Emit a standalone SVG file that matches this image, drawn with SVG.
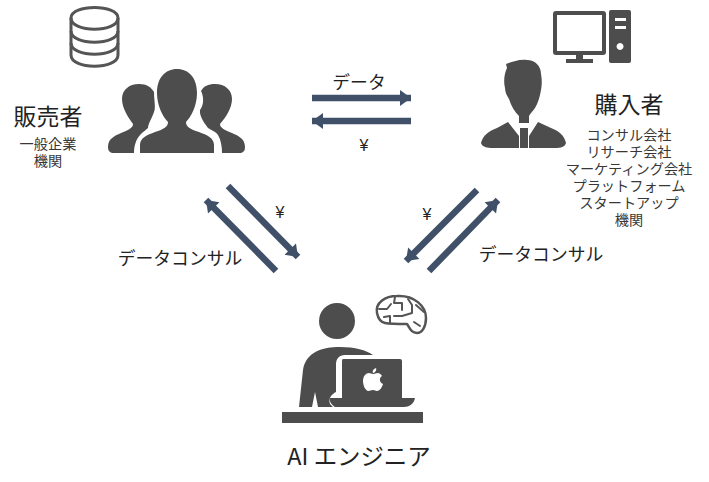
<svg xmlns="http://www.w3.org/2000/svg" width="709" height="482" viewBox="0 0 709 482">
<defs>
<style>
text{font-family:"Noto Sans CJK JP","Liberation Sans",sans-serif;fill:#222;text-anchor:middle}
.h{font-size:23px}
.e{font-size:23.4px}
.s{font-size:14.2px;fill:#383838}
.l{font-size:17.8px}
.y{font-size:16px;font-family:"Liberation Sans",sans-serif}
.f{fill:#4d4d4d}
.o{fill:none;stroke:#555;stroke-width:3}
.b{fill:none;stroke:#555;stroke-width:2;stroke-linecap:round;stroke-linejoin:round}
.a{stroke:#3f5068;stroke-width:6.5;fill:none;marker-end:url(#ah)}
</style>
<marker id="ah" markerUnits="userSpaceOnUse" markerWidth="14" markerHeight="18" refX="12" refY="9" orient="auto"><path d="M1 1L12 9L1 17Z" fill="#3f5068"/></marker>
</defs>
<rect width="709" height="482" fill="#fff"/>
<g id="connectors">
<path class="a" d="M312 98H411"/>
<path class="a" d="M411 121H312"/>
<path class="a" d="M228 186L298 257"/>
<path class="a" d="M276 271L206 200"/>
<path class="a" d="M477 190L406 261"/>
<path class="a" d="M429 271L498 200"/>
</g>
<g id="seller">
<path class="o" d="M71 18C71 4 118 4 118 18V55C118 70 71 70 71 55Z"/>
<path class="o" d="M71 18C71 33 118 33 118 18M71 31C71 46 118 46 118 31M71 43C71 58 118 58 118 43"/>
<path class="f" d="M108 147C108 139 114 136 121 133C128 130 133 128 133 124C128 117 122 108 122 99C122 90 129 84 139 84C147 84 151 87 154 92C154 100 156 108 154 112C152 118 148 124 148 128C146 130 144 131 141 134C136 139 134 146 134 153H114C110 153 108 151 108 147Z"/>
<path class="f" d="M140 153V145C140 138 147 135 155 132C164 129 168 127 168 122C163 117 157 106 157 93C157 78 165 69 177 69C189 69 197 78 197 93C197 106 191 117 186 122C186 127 190 129 199 132C207 135 214 138 214 145V153Z"/>
<path class="f" d="M245 147C245 139 239 136 232 133C225 130 220 128 220 124C226 117 232 108 232 99C232 90 225 84 215 84C208 84 204 86 201 91C204 97 204 105 200 110C199 116 205 124 208 128C213 131 216 132 218 135C221 140 222 147 222 153H239C243 153 245 151 245 147Z"/>
<text class="h" x="48" y="125">販売者</text>
<text class="s" x="48" y="149">一般企業</text>
<text class="s" x="48" y="166">機関</text>
</g>
<g id="buyer">
<path class="f" fill-rule="evenodd" d="M556 11H603Q606 11 606 14V52Q606 55 603 55H583V59H593V63H566V59H576V55H556Q553 55 553 52V14Q553 11 556 11ZM557 15V51H602V15Z"/>
<path class="f" fill-rule="evenodd" d="M611 10H629Q631 10 631 12V61Q631 63 629 63H611Q609 63 609 61V12Q609 10 611 10ZM615 18V21H626V18ZM615 26V29H626V26ZM620 43A3.5 3.5 0 1 0 620.1 43Z"/>
<path class="f" d="M505 88C503 80 505 72 507 68L506 64C512 62 519 59 527 60C535 60 541 66 541 74C542 80 542 84 541 90C540 96 538 103 535 108C532 112 530 114 529 116V123H519V116C515 112 511 106 509 99C507 96 505 92 505 88Z"/>
<path class="f" d="M481 143C483 135 489 131 497 128L508 122L519 136V148H493C487 148 482 147 481 143ZM566 143C564 135 559 131 551 128L538 122L529 136V148H555C561 148 565 147 566 143Z"/>
<path class="f" d="M520 128H528V148H520Z"/>
<text class="h" x="629" y="113">購入者</text>
<text class="s" x="629" y="140">コンサル会社</text>
<text class="s" x="629" y="157">リサーチ会社</text>
<text class="s" x="629" y="174">マーケティング会社</text>
<text class="s" x="629" y="191">プラットフォーム</text>
<text class="s" x="629" y="208">スタートアップ</text>
<text class="s" x="629" y="225">機関</text>
</g>
<g id="engineer">
<circle class="f" cx="337" cy="321" r="18"/>
<path class="f" d="M299 407L303 370C306 352 322 347 340 347C355 347 366 350 373 355H345C339 355 336 359 336 364V392C332 394 328 398 330 404L333 407H318L315 392L312 407Z"/>
<path class="f" d="M343 359H400Q402 359 402 361V398H415C414 404 409 407 404 407H335C332 405 329 402 330 398H342V361Q342 359 343 359Z"/>
<path fill="#fff" d="M376 368C377 370 375 373 373 373C372 371 373 369 376 368ZM373 374C375 374 376 373 378 373C379 373 381 374 382 376C379 378 379 382 383 384C382 387 380 391 377 391C375 391 375 390 373 390C371 390 370 391 368 391C365 390 363 385 363 381C363 376 366 373 369 373C370 373 372 374 373 374Z"/>
<path class="f" d="M282 412H423V423H282Z"/>
<path class="b" style="stroke-width:2.5" d="M377 313C375 303 385 296 397 296C414 295 426 306 426 318C426 327 422 333 417 333C411 333 410 328 407 324C398 324 390 324 385 323C380 322 378 318 377 313Z"/>
<path class="b" d="M379 309H387L391 304M395 297L394 303H402V310M408 299L412 305V313L402 316H394M384 317L390 316V323M416 305L424 312M414 322L420 326"/>
<text class="e" x="359" y="465">AI エンジニア</text>
</g>
<g id="labels">
<text class="l" x="359" y="89">データ</text>
<text class="y" x="364" y="151">¥</text>
<text class="y" x="280" y="218">¥</text>
<text class="y" x="427" y="220">¥</text>
<text class="l" x="180" y="265">データコンサル</text>
<text class="l" x="541" y="261">データコンサル</text>
</g>
</svg>
